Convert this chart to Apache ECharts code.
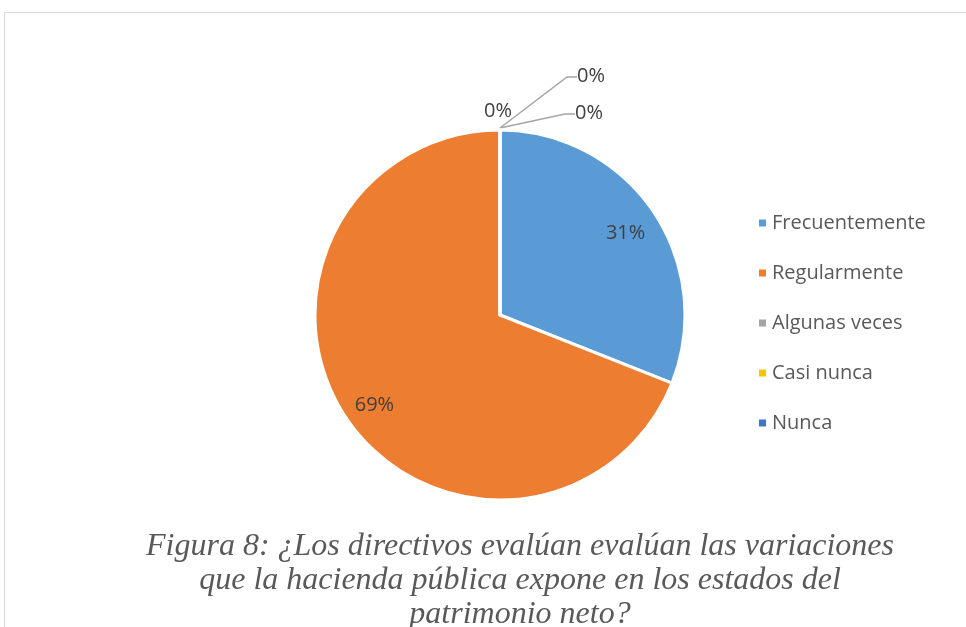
<!DOCTYPE html>
<html lang="es">
  <head>
    <meta charset="UTF-8" />
    <script src="https://cdn.jsdelivr.net/npm/echarts@6/dist/echarts.min.js"></script>
    <title>Figura 8</title>
    <style>
      html, body { margin: 0; padding: 0; background: #fff; }
      #container { width: 966px; height: 627px; }
    </style>
  </head>
  <body>
    <div id="container"></div>
    <script>
      // data
      const categories = ["Frecuentemente", "Regularmente", "Algunas veces", "Casi nunca", "Nunca"];
      const percents = [31, 69, 0, 0, 0];
      const colors = ["#5B9BD5", "#ED7D31", "#A5A5A5", "#FFC000", "#4472C4"];
      const caption = "Figura 8: ¿Los directivos evalúan evalúan las variaciones\nque la hacienda pública expone en los estados del\npatrimonio neto?";

      const cx = 500, cy = 315, radius = 185;

      const myChart = echarts.init(document.getElementById("container"));

      const pieData = categories.map((name, i) => ({
        name: name,
        value: percents[i],
        itemStyle: { color: colors[i] },
        label: { position: percents[i] > 0 ? "inside" : "outside" },
      }));

      const option = {
        animation: false,
        graphic: [
          {
            type: "rect",
            shape: { x: 4.5, y: 12.5, width: 1000, height: 700 },
            style: { fill: "none", stroke: "#d9d9d9", lineWidth: 1 },
            silent: true,
          },
        ],
        title: {
          text: caption,
          left: 515,
          top: 525,
          textAlign: "center",
          textStyle: {
            fontFamily: "Liberation Serif",
            fontStyle: "italic",
            fontWeight: "normal",
            fontSize: 32,
            lineHeight: 34,
            color: "#595959",
          },
        },
        legend: {
          orient: "vertical",
          left: 752,
          top: 208,
          icon: "rect",
          itemWidth: 9,
          itemHeight: 9,
          itemGap: 30,
          textStyle: { fontFamily: "Open Sans", fontSize: 20, color: "#595959" },
          data: categories,
        },
        series: [
          {
            name: "Figura 8",
            type: "pie",
            center: [cx, cy],
            radius: radius,
            startAngle: 90,
            clockwise: true,
            data: pieData,
            itemStyle: { borderColor: "#fff", borderWidth: 3 },
            label: {
              show: true,
              formatter: "{d}%",
              fontFamily: "Open Sans",
              fontSize: 20,
              color: "#404040",
            },
            labelLine: { show: true, lineStyle: { color: "#A5A5A5", width: 1.5 } },
            labelLayout: function (params) {
              const i = params.dataIndex;
              const r = params.labelRect;
              if (percents[i] > 0) {
                // push inside labels further out (about 0.81 of the radius)
                const lx = r.x + r.width / 2 - cx;
                const ly = r.y + r.height / 2 - cy;
                return { dx: lx * 0.59, dy: ly * 0.6 + 4 };
              }
              // zero slices all meet at the top of the pie
              const ax = cx, ay = cy - radius - 2;
              if (i === 2) {
                return {
                  x: ax + 75, y: ay - 15, align: "left", verticalAlign: "middle",
                  labelLinePoints: [[ax, ay], [ax + 65, ay - 14], [ax + 75, ay - 14]],
                };
              }
              if (i === 3) {
                return {
                  x: ax + 77, y: ay - 52, align: "left", verticalAlign: "middle",
                  labelLinePoints: [[ax, ay], [ax + 67, ay - 51], [ax + 77, ay - 51]],
                };
              }
              return {
                x: ax - 2, y: ay - 17, align: "center", verticalAlign: "middle",
                labelLinePoints: [[ax, ay], [ax, ay], [ax, ay]],
              };
            },
          },
        ],
      };

      myChart.setOption(option);
    </script>
  </body>
</html>
